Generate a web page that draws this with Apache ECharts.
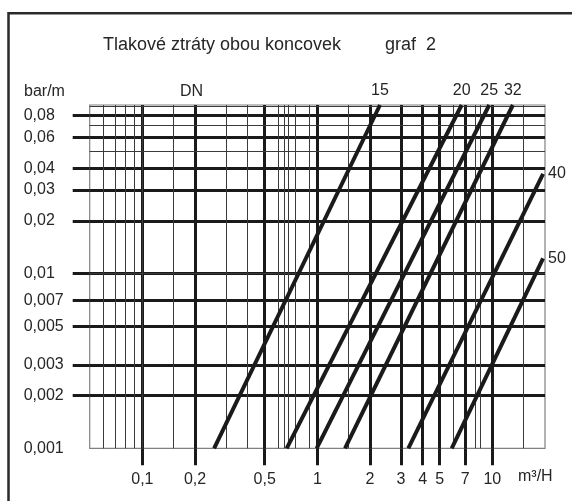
<!DOCTYPE html>
<html>
<head>
<meta charset="utf-8">
<script src="https://cdn.jsdelivr.net/npm/echarts@6/dist/echarts.min.js"></script>
<style>html,body{margin:0;padding:0;background:#fff;}#c{width:572px;height:501px;}</style>
</head>
<body>
<div id="c"></div>
<script>
// ---- data ----
const xTickValues = [0.1, 0.2, 0.5, 1, 2, 3, 4, 5, 7, 10];
const xTickLabels = ['0,1', '0,2', '0,5', '1', '2', '3', '4', '5', '7', '10'];
const yTickValues = [0.002, 0.003, 0.005, 0.007, 0.01, 0.02, 0.03, 0.04, 0.06, 0.08];
const yLabelValues = [0.001, 0.002, 0.003, 0.005, 0.007, 0.01, 0.02, 0.03, 0.04, 0.06, 0.08];
const yTickLabels = ['0,001', '0,002', '0,003', '0,005', '0,007', '0,01', '0,02', '0,03', '0,04', '0,06', '0,08'];
const xMinorValues = [0.06, 0.07, 0.08, 0.09, 0.095, 0.15, 0.3, 0.4, 0.6, 0.65, 0.68, 0.75, 0.9, 1.5, 6, 8, 8.5, 15];
const yMinorValues = [0.0015, 0.004, 0.006, 0.008, 0.009, 0.0095, 0.013, 0.05, 0.069, 0.072, 0.086];
const dnNames = ['15', '20', '25', '32', '40', '50'];
const dnFlowStart = [0.257, 0.668, 0.991, 1.439, 3.31, 5.86];
const dnLossStart = [0.001, 0.001, 0.001, 0.001, 0.001, 0.001];
const dnFlowEnd = [2.28, 6.68, 9.6, 13.1, 19.5, 19.5];
const dnLossEnd = [0.092, 0.092, 0.092, 0.092, 0.0371, 0.0122];
const xMin = 0.05, xMax = 20, yMin = 0.001, yMax = 0.092;

// ---- helpers ----
const FONT = 'Liberation Sans, Arial, Helvetica, sans-serif';
const INK = '#1a1a1a';
const TXT = '#262626';
function labelFor(values, labels, v) {
  let best = 0, bd = Infinity;
  values.forEach((t, i) => { const d = Math.abs(Math.log(t / v)); if (d < bd) { bd = d; best = i; } });
  return labels[best];
}

const dnSeries = dnNames.map((name, i) => {
  const atTop = dnLossEnd[i] >= yMax * 0.99;
  return {
    type: 'line',
    name: 'DN ' + name,
    z: 5,
    symbol: 'circle',
    symbolSize: 0,
    showSymbol: true,
    silent: true,
    lineStyle: { color: INK, width: 4, cap: 'butt' },
    itemStyle: { color: INK },
    label: { show: false },
    data: [
      [dnFlowStart[i], dnLossStart[i]],
      {
        value: [dnFlowEnd[i], dnLossEnd[i]],
        label: {
          show: true,
          formatter: name,
          position: atTop ? 'top' : 'right',
          distance: atTop ? 6 : 5,
          color: TXT,
          fontSize: 16,
          fontFamily: FONT
        }
      }
    ]
  };
});

const gridSeries = {
  type: 'line',
  name: 'grid',
  z: 1,
  silent: true,
  data: [],
  markLine: {
    silent: true,
    symbol: ['none', 'none'],
    animation: false,
    label: { show: false },
    lineStyle: { color: '#3a3a3a', width: 1, type: 'solid' },
    emphasis: { disabled: true },
    data: xMinorValues.map(v => ({ xAxis: v })).concat(yMinorValues.map(v => ({ yAxis: v })))
  }
};

const chart = echarts.init(document.getElementById('c'), null, { renderer: 'canvas' });
chart.setOption({
  animation: false,
  backgroundColor: '#fff',
  title: [
    { text: 'Tlakové ztráty obou koncovek', left: 103, top: 36, padding: 0,
      textStyle: { fontSize: 18, fontWeight: 'normal', color: TXT, fontFamily: FONT } },
    { text: 'graf  2', left: 385, top: 36, padding: 0,
      textStyle: { fontSize: 18, fontWeight: 'normal', color: TXT, fontFamily: FONT } }
  ],
  grid: {
    left: 89.7, right: 27, top: 105, bottom: 52.7,
    show: true, borderColor: '#808080', borderWidth: 1.2, backgroundColor: 'transparent',
    outerBoundsMode: 'none'
  },
  xAxis: {
    type: 'log', logBase: 10, min: xMin, max: xMax, position: 'bottom',
    axisLine: { show: false },
    axisTick: { show: true, inside: false, length: 17, customValues: xTickValues,
      lineStyle: { color: INK, width: 3 } },
    axisLabel: { show: true, customValues: xTickValues, margin: 23, fontSize: 16, color: TXT,
      fontFamily: FONT, showMinLabel: true, showMaxLabel: true,
      formatter: v => labelFor(xTickValues, xTickLabels, v) },
    splitLine: { show: true, lineStyle: { color: INK, width: 3 } },
    minorTick: { show: false }, minorSplitLine: { show: false }
  },
  yAxis: {
    type: 'log', logBase: 10, min: yMin, max: yMax,
    axisLine: { show: false },
    axisTick: { show: true, inside: false, length: 17, customValues: yTickValues,
      lineStyle: { color: INK, width: 3 } },
    axisLabel: { show: true, customValues: yLabelValues, margin: 66, align: 'left', fontSize: 16,
      color: TXT, fontFamily: FONT, showMinLabel: true, showMaxLabel: true,
      formatter: v => labelFor(yLabelValues, yTickLabels, v) },
    splitLine: { show: true, lineStyle: { color: INK, width: 3 } },
    minorTick: { show: false }, minorSplitLine: { show: false }
  },
  graphic: [
    { type: 'polyline', silent: true, z: 10,
      shape: { points: [[8.5, 501], [8.5, 13.3], [572, 13.3]] },
      style: { stroke: '#2a2a2a', lineWidth: 2.5, fill: null } },
    { type: 'text', left: 24, top: 84, silent: true,
      style: { text: 'bar/m', fontSize: 16, fill: TXT, fontFamily: FONT } },
    { type: 'text', left: 180, top: 84, silent: true,
      style: { text: 'DN', fontSize: 16, fill: TXT, fontFamily: FONT } },
    { type: 'text', left: 518, top: 469, silent: true,
      style: { text: 'm³/H', fontSize: 16, fill: TXT, fontFamily: FONT } }
  ],
  series: [gridSeries].concat(dnSeries)
});
</script>
</body>
</html>
